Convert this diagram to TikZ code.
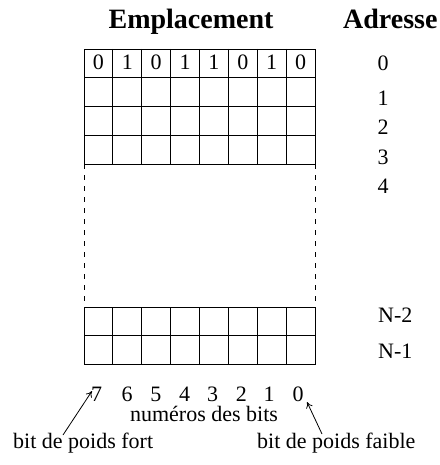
\documentclass[tikz,border=0pt]{standalone}
\usepackage{fontspec}
\setmainfont{Liberation Serif}
\usetikzlibrary{arrows.meta}
\begin{document}
\begin{tikzpicture}[x=1pt,y=-1pt,
  txt/.style={inner sep=0pt,anchor=base,font=\fontsize{22}{24}\selectfont},
  ttl/.style={inner sep=0pt,anchor=base,font=\fontsize{28}{30}\selectfont\bfseries},
  gridline/.style={line width=0.9pt},
  dashline/.style={line width=0.9pt,dash pattern=on 5pt off 6pt},
  ptr/.style={line width=0.8pt,-{To[length=6pt,width=7pt]}}]
\useasboundingbox (0,0) rectangle (439,465);
% titles
\node[ttl] (emp) at (191,28.3) {Emplacement};
\node[ttl,anchor=base west] (adr) at (343,28.3) {Adresse};
% top grid
\draw[gridline] (84,49) rectangle (315,164);
\foreach \y in {77.75,106.5,135.25} \draw[gridline] (84,\y) -- (315,\y);
\foreach \i in {1,...,7} \draw[gridline] ({84+\i*28.875},49) -- ({84+\i*28.875},164);
% bottom grid
\draw[gridline] (84,307) rectangle (315,364.5);
\draw[gridline] (84,335.75) -- (315,335.75);
\foreach \i in {1,...,7} \draw[gridline] ({84+\i*28.875},307) -- ({84+\i*28.875},364.5);
% dashed sides
\draw[dashline] (84,164) -- (84,307);
\draw[dashline] (315,164) -- (315,307);
% bits of first word
\foreach \b [count=\i from 0] in {0,1,0,1,1,0,1,0}
  \node[txt] (c\i) at ({84+28.875*(\i+0.5)},70) {\b};
% addresses
\node[txt] (a0) at (383,70.7) {0};
\node[txt] (a1) at (383,106) {1};
\node[txt] (a2) at (383,135) {2};
\node[txt] (a3) at (383,164.3) {3};
\node[txt] (a4) at (383,193.3) {4};
\node[txt,anchor=base west] (an2) at (378,322.7) {N-2};
\node[txt,anchor=base west] (an1) at (378,358) {N-1};
% bit numbers
\foreach \n/\x in {7/96.7,6/127.2,5/155.8,4/184.7,3/212.5,2/241.3,1/269,0/298}
  \node[txt] (b\n) at (\x,401) {\n};
\node[txt] (num) at (204,421) {numéros des bits};
\node[txt,anchor=base west] (fort) at (13,448) {bit de poids fort};
\node[txt,anchor=base west] (faible) at (257,448) {bit de poids faible};
% arrows
\coordinate (fortT) at (63,435);
\coordinate (b7tip) at (92,391);
\coordinate (faibleT) at (322,434);
\coordinate (b0tip) at (307,402);
\draw[ptr] (fortT) -- (b7tip);
\draw[ptr] (faibleT) -- (b0tip);
\end{tikzpicture}
\end{document}
